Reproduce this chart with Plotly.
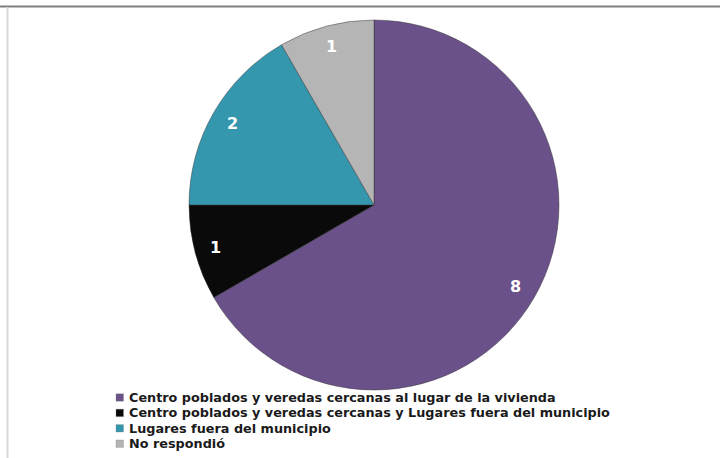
import math
import plotly.graph_objects as go

labels = [
    "Centro poblados y veredas cercanas al lugar de la vivienda",
    "Centro poblados y veredas cercanas y Lugares fuera del municipio",
    "Lugares fuera del municipio",
    "No respondió",
]
values = [8, 1, 2, 1]
colors = ["#6a5189", "#0a0a0a", "#3597ae", "#b5b5b5"]

W, H = 720, 458
cx, cy, r = 374, 205, 185

FONT = "DejaVu Sans"

fig = go.Figure(
    go.Pie(
        labels=labels,
        values=values,
        sort=False,
        direction="clockwise",
        rotation=0,
        marker=dict(colors=colors, line=dict(color="rgba(50,50,50,0.45)", width=1)),
        textinfo="none",
        hoverinfo="label+value+percent",
        showlegend=False,
        domain=dict(
            x=[(cx - r) / W, (cx + r) / W],
            y=[1 - (cy + r) / H, 1 - (cy - r) / H],
        ),
    )
)

annotations = []
shapes = []

# value labels placed along each slice's mid-angle (clockwise from 12 o'clock)
total = sum(values)
cum = 0
for v in values:
    mid = (cum + v / 2) / total * 2 * math.pi
    cum += v
    px = cx + 0.885 * r * math.sin(mid)
    py = cy - 0.885 * r * math.cos(mid)
    annotations.append(dict(
        x=px / W, y=1 - py / H, xref="paper", yref="paper",
        text=str(v), showarrow=False, xanchor="center", yanchor="middle",
        borderpad=0,
        font=dict(family=FONT, size=16, color="white", weight="bold"),
    ))

# legend (compact, as in the original)
row0, row_gap = 397.5, 15.4
for i, (lab, col) in enumerate(zip(labels, colors)):
    ry = row0 + i * row_gap
    shapes.append(dict(
        type="rect", xref="paper", yref="paper",
        x0=116 / W, x1=123.5 / W, y0=1 - (ry + 3.7) / H, y1=1 - (ry - 3.7) / H,
        fillcolor=col, line=dict(color="rgba(120,120,120,0.6)", width=0.5),
    ))
    annotations.append(dict(
        x=128 / W, y=1 - ry / H, xref="paper", yref="paper",
        text=lab, showarrow=False, xanchor="left", yanchor="middle",
        borderpad=0,
        font=dict(family=FONT, size=12.8, color="#1a1a1a", weight="bold"),
    ))

shapes += [
    dict(type="line", xref="paper", yref="paper", x0=0, x1=1,
         y0=1 - 6.5 / H, y1=1 - 6.5 / H, line=dict(color="#7f7f7f", width=2)),
    dict(type="line", xref="paper", yref="paper", x0=7.5 / W, x1=7.5 / W,
         y0=0, y1=1 - 7 / H, line=dict(color="#d9d9d9", width=2)),
]

fig.update_layout(
    width=W,
    height=H,
    margin=dict(l=0, r=0, t=0, b=0),
    paper_bgcolor="white",
    plot_bgcolor="white",
    showlegend=False,
    annotations=annotations,
    shapes=shapes,
)

fig.write_html(
    "out.html",
    config={"displayModeBar": False},
    post_script="document.body.style.margin='0';document.body.style.padding='0';",
)
